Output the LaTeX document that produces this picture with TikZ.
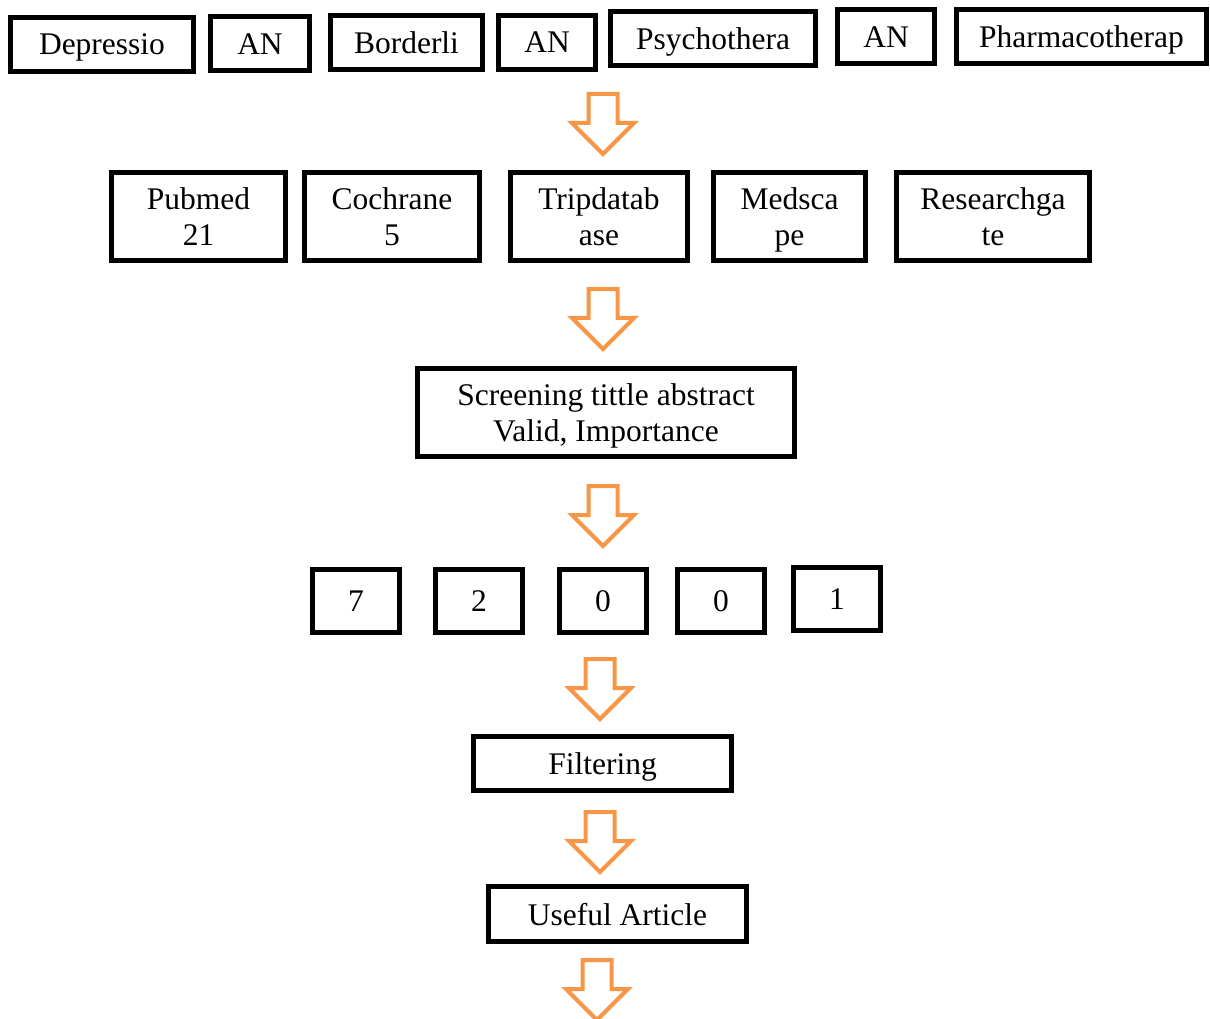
\documentclass[tikz,border=0pt]{standalone}
\usepackage{fontspec}
\setmainfont{Liberation Serif}
\usetikzlibrary{shapes.arrows}
\definecolor{FlowOrange}{HTML}{F79646}
\tikzstyle{term} = [rectangle, draw=black, line width=5pt, inner sep=0pt, text centered, text depth=0pt, minimum height=54pt, font=\fontsize{31.5}{36}\selectfont]
\tikzstyle{twoline} = [term, align=center, minimum height=88pt]
\tikzstyle{numbox} = [term, minimum width=87pt, minimum height=63pt]
\tikzstyle{blockarrow} = [single arrow, draw=FlowOrange, line width=4pt, minimum height=60pt, inner xsep=0pt, inner ysep=12.5pt, single arrow head extend=16.5pt, rotate=-90, anchor=tail]

\begin{document}
\begin{tikzpicture}[x=1pt, y=-1pt]

\useasboundingbox (0,0) rectangle (1210,1019);

% search terms
\node (dep) [term, minimum width=183pt] at (102,44.5) {Depressio};
\node (an1) [term, minimum width=99pt] at (260,44) {AN};
\node (bor) [term, minimum width=152pt] at (406.5,42.5) {Borderli};
\node (an2) [term, minimum width=97pt] at (547,42.5) {AN};
\node (psy) [term, minimum width=205pt] at (713,38.5) {Psychothera};
\node (an3) [term, minimum width=97pt] at (886,37) {AN};
\node (pha) [term, minimum width=250pt] at (1081.5,37) {Pharmacotherap};

\node (a1) [blockarrow] at (603,92) {};

% databases
\node (pub) [twoline, minimum width=174pt] at (198.5,216.5) {Pubmed\\21};
\node (coc) [twoline, minimum width=175pt] at (392,216.5) {Cochrane\\5};
\node (tri) [twoline, minimum width=177pt] at (599,216.5) {Tripdatab\\ase};
\node (med) [twoline, minimum width=152pt] at (789.5,216.5) {Medsca\\pe};
\node (res) [twoline, minimum width=193pt] at (993,216.5) {Researchga\\te};

\node (a2) [blockarrow] at (603,287) {};

\node (scr) [twoline, minimum width=377pt] at (606,412.5) {Screening tittle abstract\\Valid, Importance};

\node (a3) [blockarrow] at (603,484) {};

% counts
\node (n1) [numbox] at (356,601) {7};
\node (n2) [numbox] at (479,601) {2};
\node (n3) [numbox] at (603,601) {0};
\node (n4) [numbox] at (721,601) {0};
\node (n5) [numbox] at (837,599) {1};

\node (a4) [blockarrow] at (600,657) {};

\node (fil) [term, minimum width=258pt] at (602.5,763.5) {Filtering};

\node (a5) [blockarrow] at (600,810) {};

\node (use) [term, minimum width=258pt, minimum height=55pt] at (617.5,914) {Useful Article};

\node (a6) [blockarrow] at (597,958) {};

\end{tikzpicture}
\end{document}
